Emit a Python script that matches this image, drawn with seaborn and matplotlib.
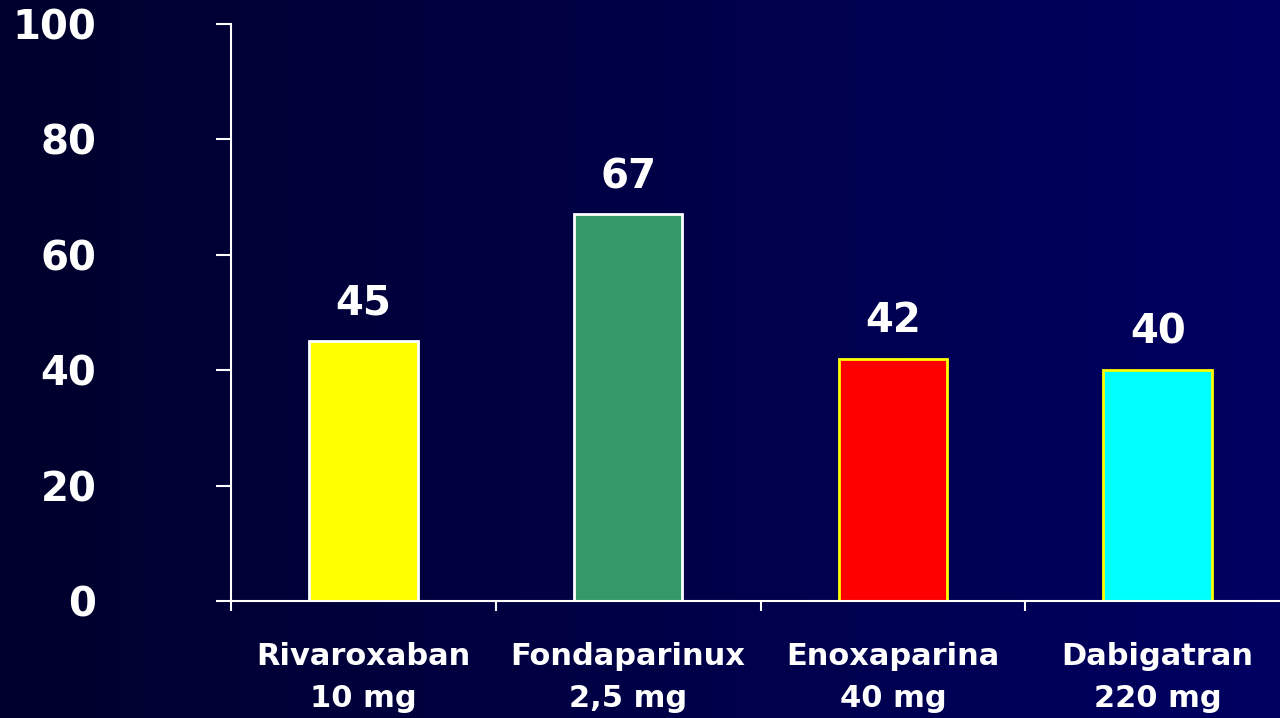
import matplotlib

matplotlib.use("Agg")
import matplotlib.pyplot as plt
import numpy as np
import pandas as pd
import seaborn as sns

# data
drugs = ["Rivaroxaban\n10 mg", "Fondaparinux\n2,5 mg", "Enoxaparina\n40 mg", "Dabigatran\n220 mg"]
values = [45, 67, 42, 40]
y_ticks = [0, 20, 40, 60, 80, 100]

bar_colors = ["#FFFF00", "#339966", "#FF0000", "#00FFFF"]
edge_colors = ["#FFFFFF", "#FFFFFF", "#FFFF00", "#FFFF00"]

sns.set_theme(style="white")
plt.rcParams["font.family"] = ["DejaVu Sans"]
plt.rcParams["font.weight"] = "bold"

df = pd.DataFrame({"drug": drugs, "value": values})

fig = plt.figure(figsize=(12.8, 7.18), dpi=100)

# horizontal navy gradient background
bg = fig.add_axes([0, 0, 1, 1], zorder=-10)
grad = np.linspace(0, 1, 256).reshape(1, -1)
bg_cmap = matplotlib.colors.LinearSegmentedColormap.from_list("navy", ["#00002C", "#000062"])
bg.imshow(grad, aspect="auto", cmap=bg_cmap, extent=[0, 1, 0, 1])
bg.set_axis_off()

ax = fig.add_axes([231 / 1280, 1 - 601 / 718, 1059 / 1280, 577 / 718])
ax.set_facecolor("none")

sns.barplot(
    data=df,
    x="drug",
    y="value",
    hue="drug",
    palette=bar_colors,
    legend=False,
    width=0.41,
    linewidth=2,
    saturation=1,
    ax=ax,
)
for patch, ec in zip(ax.patches, edge_colors):
    patch.set_edgecolor(ec)
    patch.set_linewidth(2)

for cont in ax.containers:
    ax.bar_label(cont, padding=12.5, color="white", fontsize=29, fontweight="bold")

ax.set_xlim(-0.5, 3.5)
ax.set_ylim(0, 100)
ax.set_yticks(y_ticks)
ax.set_xlabel("")
ax.set_ylabel("")

# y axis
ax.tick_params(axis="y", colors="white", length=11, width=1.5, direction="out",
               pad=86, labelsize=29, left=True)
for lbl in ax.get_yticklabels():
    lbl.set_fontweight("bold")

# x axis: labels centred, ticks on category boundaries
ax.set_xticks(range(len(drugs)))
ax.set_xticklabels(drugs, fontsize=22, fontweight="bold", color="white", linespacing=1.55)
ax.tick_params(axis="x", which="major", length=0, pad=29.5)
ax.set_xticks([-0.5, 0.5, 1.5, 2.5], minor=True)
ax.tick_params(axis="x", which="minor", bottom=True, length=7, width=1.5, color="white", direction="out")

for side in ["top", "right"]:
    ax.spines[side].set_visible(False)
for side in ["left", "bottom"]:
    ax.spines[side].set_color("white")
    ax.spines[side].set_linewidth(1.5)

fig.savefig("out.png", dpi=100)
